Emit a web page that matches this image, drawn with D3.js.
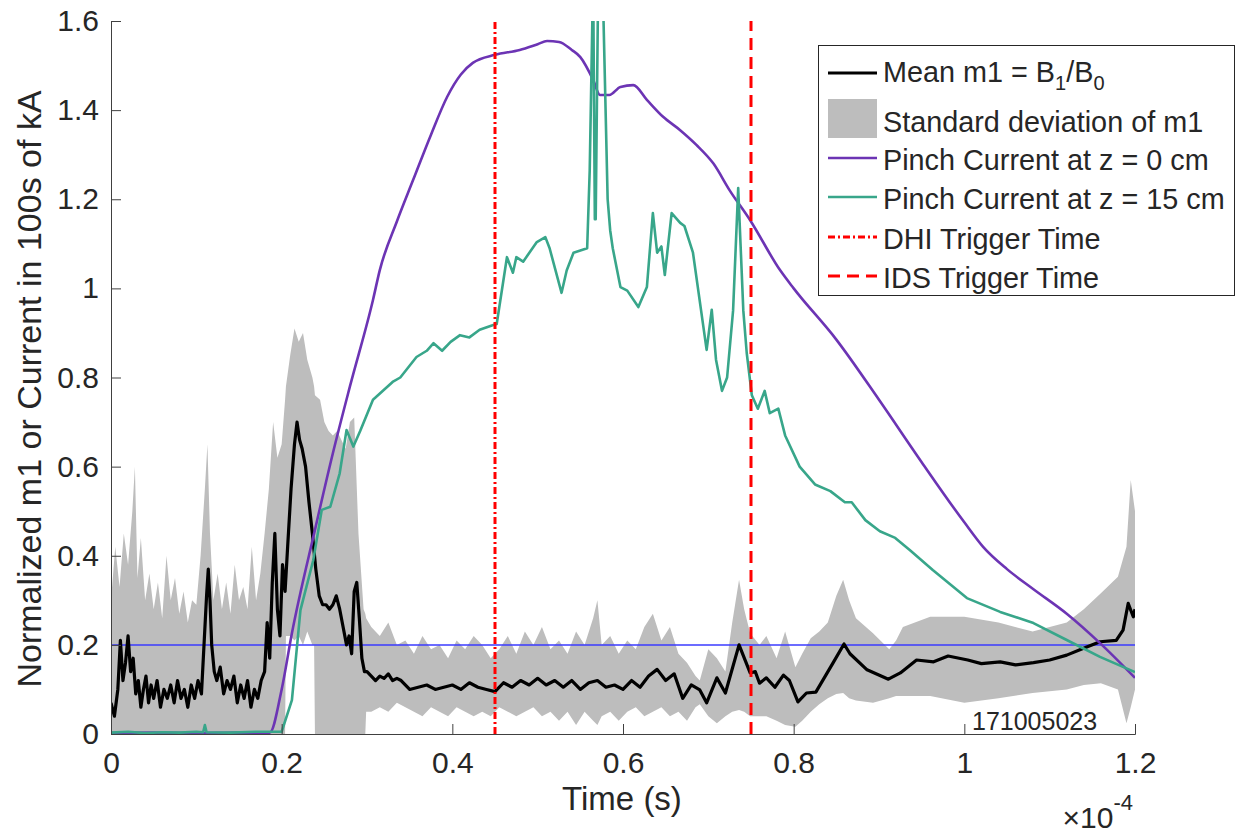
<!DOCTYPE html>
<html>
<head>
<meta charset="utf-8">
<script src="https://cdn.jsdelivr.net/npm/d3@7"></script>
<style>
  body { margin: 0; background: #fff; }
  text { font-family: "Liberation Sans", Arial, sans-serif; fill: #262626; }
</style>
</head>
<body>
<script>
// time axis is in units of 1e-4 s
let tMean = [0.000,0.004,0.008,0.011,0.014,0.017,0.020,0.023,0.026,0.029,0.032,0.035,0.038,0.041,0.044,0.047,0.050,0.054,0.058,0.062,0.066,0.070,0.074,0.078,0.082,0.086,0.090,0.094,0.098,0.102,0.106,0.109,0.112,0.114,0.116,0.118,0.121,0.124,0.128,0.132,0.136,0.140,0.144,0.148,0.152,0.156,0.160,0.164,0.168,0.172,0.176,0.180,0.183,0.186,0.189,0.192,0.195,0.198,0.201,0.204,0.207,0.211,0.215,0.218,0.221,0.224,0.228,0.232,0.236,0.240,0.244,0.248,0.252,0.256,0.260,0.264,0.268,0.272,0.276,0.279,0.282,0.285,0.288,0.291,0.294,0.297,0.300,0.305,0.310,0.315,0.320,0.325,0.330,0.335,0.340,0.350,0.360,0.370,0.380,0.390,0.400,0.410,0.420,0.430,0.440,0.450,0.460,0.470,0.480,0.490,0.500,0.510,0.520,0.530,0.540,0.550,0.560,0.570,0.580,0.590,0.600,0.610,0.620,0.630,0.640,0.650,0.660,0.670,0.680,0.690,0.698,0.710,0.720,0.736,0.749,0.755,0.760,0.768,0.778,0.788,0.795,0.805,0.815,0.826,0.846,0.859,0.866,0.886,0.911,0.925,0.944,0.964,0.981,1.004,1.020,1.042,1.060,1.081,1.100,1.120,1.139,1.159,1.178,1.186,1.192,1.198,1.200];
let meanM1 = [0.07,0.04,0.10,0.21,0.12,0.16,0.22,0.14,0.17,0.09,0.12,0.06,0.10,0.13,0.07,0.11,0.08,0.12,0.06,0.10,0.08,0.11,0.07,0.12,0.08,0.10,0.06,0.11,0.08,0.12,0.09,0.20,0.31,0.37,0.30,0.20,0.14,0.12,0.15,0.09,0.12,0.10,0.13,0.07,0.11,0.08,0.12,0.06,0.10,0.08,0.12,0.14,0.25,0.17,0.34,0.45,0.28,0.22,0.38,0.32,0.42,0.55,0.65,0.70,0.66,0.64,0.60,0.52,0.45,0.37,0.31,0.29,0.29,0.28,0.29,0.31,0.28,0.24,0.20,0.22,0.18,0.32,0.34,0.26,0.17,0.14,0.14,0.13,0.12,0.13,0.125,0.135,0.12,0.125,0.12,0.10,0.105,0.11,0.10,0.105,0.11,0.10,0.115,0.105,0.10,0.095,0.115,0.105,0.12,0.11,0.125,0.11,0.12,0.105,0.12,0.10,0.115,0.12,0.105,0.11,0.10,0.12,0.105,0.13,0.145,0.12,0.135,0.08,0.11,0.099,0.07,0.126,0.092,0.20,0.137,0.14,0.114,0.126,0.105,0.132,0.12,0.072,0.092,0.094,0.159,0.202,0.18,0.144,0.123,0.137,0.166,0.162,0.175,0.166,0.158,0.162,0.155,0.16,0.166,0.177,0.192,0.207,0.21,0.233,0.293,0.263,0.28];

let tStd = [0.000,0.005,0.010,0.015,0.020,0.025,0.028,0.031,0.035,0.040,0.045,0.050,0.055,0.060,0.065,0.070,0.075,0.080,0.085,0.090,0.095,0.100,0.105,0.110,0.113,0.116,0.120,0.125,0.130,0.135,0.140,0.145,0.150,0.155,0.160,0.165,0.170,0.175,0.180,0.185,0.190,0.195,0.200,0.204,0.205,0.210,0.215,0.220,0.225,0.230,0.236,0.238,0.239,0.245,0.250,0.255,0.260,0.265,0.270,0.275,0.280,0.285,0.290,0.296,0.298,0.299,0.305,0.315,0.325,0.335,0.345,0.355,0.365,0.375,0.385,0.395,0.405,0.415,0.425,0.435,0.445,0.455,0.465,0.475,0.485,0.495,0.505,0.515,0.525,0.535,0.545,0.555,0.565,0.570,0.575,0.585,0.595,0.605,0.615,0.625,0.635,0.645,0.655,0.665,0.675,0.685,0.690,0.700,0.710,0.720,0.728,0.736,0.742,0.749,0.760,0.768,0.780,0.790,0.802,0.810,0.820,0.830,0.840,0.850,0.858,0.865,0.873,0.893,0.912,0.920,0.928,0.960,1.000,1.040,1.080,1.120,1.140,1.160,1.180,1.190,1.195,1.200];
let stdHi = [0.30,0.42,0.33,0.45,0.38,0.50,0.60,0.35,0.44,0.30,0.36,0.28,0.34,0.26,0.40,0.30,0.35,0.27,0.32,0.25,0.30,0.29,0.40,0.55,0.65,0.45,0.30,0.36,0.28,0.34,0.27,0.38,0.30,0.33,0.28,0.42,0.30,0.36,0.45,0.55,0.70,0.62,0.65,0.75,0.78,0.85,0.91,0.88,0.90,0.84,0.80,0.78,0.76,0.75,0.70,0.68,0.67,0.68,0.66,0.64,0.70,0.71,0.45,0.28,0.27,0.26,0.24,0.22,0.25,0.20,0.21,0.18,0.22,0.19,0.20,0.17,0.21,0.19,0.22,0.20,0.17,0.19,0.22,0.18,0.23,0.20,0.24,0.19,0.21,0.18,0.23,0.20,0.26,0.30,0.20,0.22,0.18,0.21,0.19,0.24,0.27,0.21,0.24,0.18,0.16,0.13,0.12,0.19,0.17,0.14,0.25,0.346,0.28,0.226,0.20,0.22,0.17,0.23,0.15,0.18,0.215,0.23,0.25,0.31,0.346,0.30,0.26,0.226,0.19,0.21,0.24,0.263,0.263,0.25,0.23,0.25,0.28,0.316,0.353,0.42,0.57,0.50];
let stdLo = [0,0,0,0,0,0,0,0,0,0,0,0,0,0,0,0,0,0,0,0,0,0,0,0,0,0,0,0,0,0,0,0,0,0,0,0,0,0,0,0,0,0,0,0,0.22,0.22,0.21,0.22,0.20,0.23,0.20,0.20,0,0,0,0,0,0,0,0,0,0,0,0,0,0.05,0.05,0.06,0.05,0.07,0.06,0.05,0.04,0.06,0.05,0.04,0.06,0.05,0.04,0.05,0.04,0.06,0.05,0.04,0.05,0.06,0.04,0.05,0.03,0.05,0.02,0.05,0.03,0.02,0.04,0.05,0.03,0.05,0.06,0.04,0.05,0.06,0.04,0.05,0.03,0.06,0.067,0.04,0.024,0.04,0.05,0.054,0.05,0.04,0.04,0.04,0.03,0.02,0.016,0.03,0.05,0.067,0.08,0.09,0.092,0.08,0.075,0.07,0.08,0.085,0.085,0.085,0.07,0.08,0.092,0.10,0.11,0.114,0.10,0.024,0.06,0.10];

let tPinch0 = [0.000,0.050,0.100,0.150,0.186,0.200,0.212,0.239,0.260,0.280,0.307,0.315,0.335,0.354,0.375,0.394,0.410,0.424,0.450,0.479,0.500,0.511,0.525,0.540,0.550,0.565,0.573,0.584,0.597,0.612,0.628,0.647,0.667,0.686,0.706,0.725,0.749,0.784,0.800,0.850,0.900,0.950,1.000,1.022,1.050,1.081,1.120,1.159,1.200];
let pinch0 = [0.002,0.003,0.002,0.003,0.003,0.10,0.226,0.458,0.63,0.78,0.974,1.041,1.15,1.243,1.345,1.43,1.48,1.506,1.524,1.535,1.548,1.555,1.553,1.535,1.519,1.468,1.434,1.434,1.452,1.456,1.423,1.385,1.355,1.322,1.28,1.22,1.153,1.041,1.0,0.885,0.75,0.61,0.475,0.42,0.37,0.325,0.27,0.204,0.126];

let tPinch15 = [0.000,0.020,0.040,0.060,0.080,0.100,0.108,0.110,0.112,0.140,0.170,0.200,0.212,0.222,0.237,0.247,0.257,0.268,0.276,0.284,0.292,0.307,0.330,0.339,0.358,0.370,0.378,0.388,0.398,0.409,0.420,0.432,0.448,0.452,0.464,0.471,0.475,0.483,0.499,0.509,0.514,0.528,0.534,0.542,0.558,0.561,0.565,0.567,0.568,0.571,0.576,0.582,0.585,0.588,0.597,0.605,0.618,0.628,0.635,0.640,0.645,0.649,0.657,0.667,0.672,0.682,0.698,0.704,0.709,0.716,0.722,0.729,0.735,0.741,0.745,0.751,0.758,0.766,0.772,0.782,0.790,0.807,0.825,0.843,0.860,0.868,0.884,0.901,0.919,0.936,0.963,1.003,1.042,1.081,1.120,1.159,1.200];
let pinch15 = [0.003,0.005,0.002,0.004,0.003,0.005,0.004,0.02,0.004,0.003,0.005,0.005,0.076,0.278,0.39,0.503,0.51,0.585,0.682,0.645,0.68,0.75,0.79,0.80,0.846,0.86,0.877,0.86,0.88,0.895,0.89,0.907,0.918,0.92,1.07,1.035,1.07,1.06,1.104,1.115,1.09,0.99,1.04,1.08,1.09,1.265,1.70,1.155,1.155,1.70,1.70,1.20,1.13,1.09,1.003,0.995,0.958,1.003,1.169,1.08,1.094,1.03,1.169,1.147,1.14,1.08,0.862,0.952,0.84,0.77,0.80,0.95,1.225,0.95,0.855,0.76,0.73,0.77,0.72,0.73,0.67,0.60,0.56,0.545,0.52,0.52,0.48,0.455,0.44,0.413,0.368,0.305,0.274,0.249,0.211,0.173,0.139];

let refLevel = 0.2;
let dhiTime = 0.45;
let idsTime = 0.75;
let xTicks = [0, 0.2, 0.4, 0.6, 0.8, 1, 1.2];
let yTicks = [0, 0.2, 0.4, 0.6, 0.8, 1, 1.2, 1.4, 1.6];
let shotLabel = "171005023";

let width = 1242, height = 834;
let svg = d3.select("body").append("svg")
    .attr("width", width).attr("height", height);

let x = d3.scaleLinear().domain([0, 1.2]).range([111, 1135]);
let y = d3.scaleLinear().domain([0, 1.6]).range([734, 21]);

svg.append("clipPath").attr("id", "plotclip")
  .append("rect").attr("x", 111).attr("y", 21).attr("width", 1024).attr("height", 713);

let plot = svg.append("g").attr("clip-path", "url(#plotclip)");

let zip = (ts, vs) => ts.map((t, i) => [t, vs[i]]);

// std deviation band
let band = tStd.map((t, i) => ({t: t, lo: stdLo[i], hi: stdHi[i]}));
plot.append("path")
  .datum(band)
  .attr("fill", "#bdbdbd")
  .attr("d", d3.area().x(d => x(d.t)).y0(d => y(d.lo)).y1(d => y(d.hi)));

// 0.2 reference line
plot.append("line")
  .attr("x1", x(0)).attr("x2", x(1.2))
  .attr("y1", y(refLevel)).attr("y2", y(refLevel))
  .attr("stroke", "#3b3bff").attr("stroke-width", 1.5);

let line = d3.line().x(d => x(d[0])).y(d => y(d[1]));

plot.append("path").datum(zip(tMean, meanM1))
  .attr("fill", "none").attr("stroke", "#000").attr("stroke-width", 3.2)
  .attr("stroke-linejoin", "round").attr("d", line);

plot.append("path").datum(zip(tPinch0, pinch0))
  .attr("fill", "none").attr("stroke", "#6c34b4").attr("stroke-width", 2.6)
  .attr("stroke-linejoin", "round").attr("d", d3.line().x(d => x(d[0])).y(d => y(d[1])).curve(d3.curveMonotoneX));

plot.append("path").datum(zip(tPinch15, pinch15))
  .attr("fill", "none").attr("stroke", "#38a68a").attr("stroke-width", 2.6)
  .attr("stroke-linejoin", "round").attr("d", line);

// trigger times
plot.append("line")
  .attr("x1", x(dhiTime)).attr("x2", x(dhiTime)).attr("y1", y(0)).attr("y2", y(1.6))
  .attr("stroke", "#ff0000").attr("stroke-width", 3).attr("stroke-dasharray", "7,3,2,3");
plot.append("line")
  .attr("x1", x(idsTime)).attr("x2", x(idsTime)).attr("y1", y(0)).attr("y2", y(1.6))
  .attr("stroke", "#ff0000").attr("stroke-width", 3).attr("stroke-dasharray", "12,7");

// axes
let xAxis = svg.append("g").attr("transform", "translate(0,734)")
  .call(d3.axisBottom(x).tickValues(xTicks).tickSize(-10).tickPadding(18).tickFormat(d3.format("")));
let yAxis = svg.append("g").attr("transform", "translate(111,0)")
  .call(d3.axisLeft(y).tickValues(yTicks).tickSize(-10).tickPadding(12).tickFormat(d3.format("")));
[xAxis, yAxis].forEach(a => {
  a.select(".domain").attr("stroke", "#404040");
  a.selectAll(".tick line").attr("stroke", "#404040");
  a.selectAll("text").attr("font-size", 30).attr("fill", "#262626")
    .attr("font-family", "Liberation Sans, Arial, sans-serif");
});
xAxis.selectAll("text").attr("dy", "0.71em");

svg.append("text")
  .attr("x", 622).attr("y", 810)
  .attr("text-anchor", "middle").attr("font-size", 33)
  .text("Time (s)");

svg.append("text")
  .attr("transform", "translate(41," + 389 + ") rotate(-90)")
  .attr("text-anchor", "middle").attr("font-size", 34)
  .text("Normalized m1 or Current in 100s of kA");

let expo = svg.append("text").attr("x", 1133).attr("y", 828)
  .attr("text-anchor", "end").attr("font-size", 30);
expo.append("tspan").text("\u00d710");
expo.append("tspan").attr("dy", -18).attr("font-size", 22).text("-4");

svg.append("text")
  .attr("x", 972).attr("y", 730)
  .attr("font-family", "Lato, 'Open Sans', sans-serif")
  .attr("font-size", 25).attr("fill", "#000")
  .text(shotLabel);

// legend
let leg = svg.append("g");
leg.append("rect").attr("x", 818.5).attr("y", 45.5).attr("width", 416).attr("height", 250)
  .attr("fill", "#fff").attr("stroke", "#262626").attr("stroke-width", 1);

let legendItems = [
  {label: "mean", y: 73},
  {label: "Standard deviation of m1", y: 119, box: true},
  {label: "Pinch Current at z = 0 cm", y: 158, color: "#6c34b4", w: 2.6},
  {label: "Pinch Current at z = 15 cm", y: 197, color: "#38a68a", w: 2.6},
  {label: "DHI Trigger Time", y: 237, color: "#ff0000", w: 3, dash: "7,3,2,3"},
  {label: "IDS Trigger Time", y: 276, color: "#ff0000", w: 3, dash: "12,7"}
];
legendItems.forEach(it => {
  if (it.box) {
    leg.append("rect").attr("x", 828).attr("y", 99).attr("width", 49).attr("height", 39)
      .attr("fill", "#bdbdbd");
  } else if (it.label === "mean") {
    leg.append("line").attr("x1", 828).attr("x2", 877).attr("y1", it.y).attr("y2", it.y)
      .attr("stroke", "#000").attr("stroke-width", 3);
  } else {
    leg.append("line").attr("x1", 828).attr("x2", 877).attr("y1", it.y).attr("y2", it.y)
      .attr("stroke", it.color).attr("stroke-width", it.w)
      .attr("stroke-dasharray", it.dash || null);
  }
  let tx = leg.append("text").attr("x", 883).attr("font-size", 28.8).attr("fill", "#000");
  if (it.label === "mean") {
    tx.attr("y", 82);
    tx.append("tspan").text("Mean m1 = B");
    tx.append("tspan").attr("font-size", 20).attr("dy", 8).text("1");
    tx.append("tspan").attr("dy", -8).text("/B");
    tx.append("tspan").attr("font-size", 20).attr("dy", 8).text("0");
  } else {
    tx.attr("y", it.box ? 132 : it.y + 12).text(it.label);
  }
});
</script>
</body>
</html>
